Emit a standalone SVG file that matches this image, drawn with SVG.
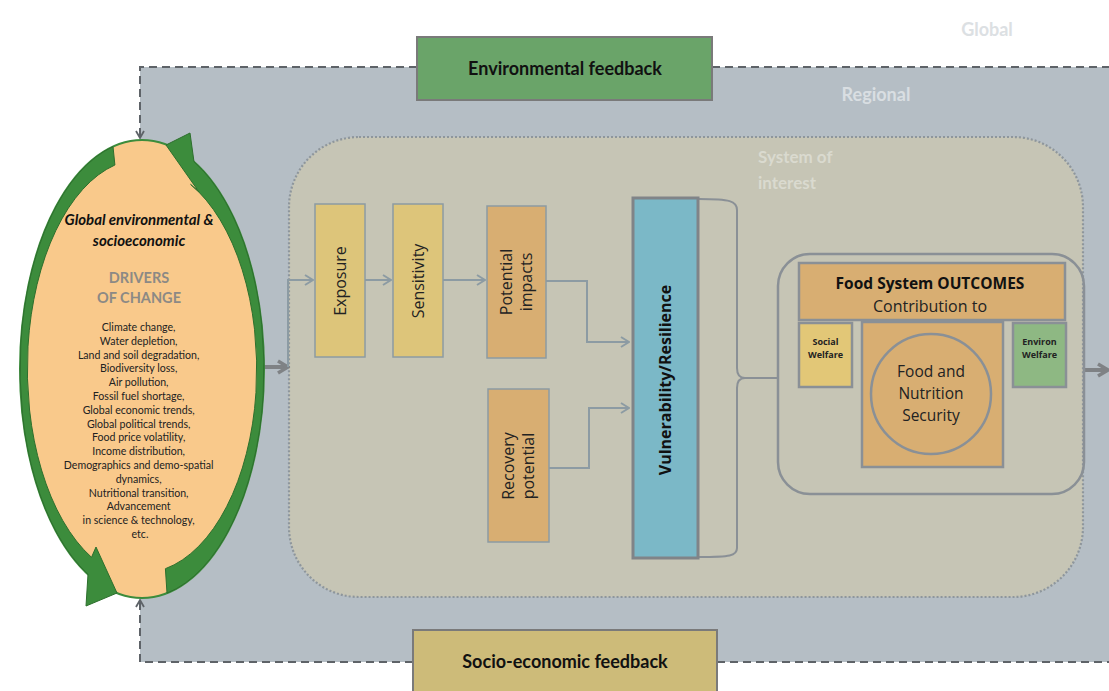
<svg xmlns="http://www.w3.org/2000/svg" width="1109" height="691" viewBox="0 0 1109 691">
<style>
.lato{font-family:Lato,"Liberation Sans",sans-serif}
.os{font-family:"Open Sans","Noto Sans",sans-serif}
.box{stroke:#8C9BA3;stroke-width:1.5}
.obox{stroke:#8A9096;stroke-width:2.5}
.flow{fill:none;stroke:#8C9BA3;stroke-width:2}
.thick{fill:none;stroke:#7F8285;stroke-width:4}
.dash{fill:none;stroke:#5E6368;stroke-width:2;stroke-dasharray:8 5}
.band{fill:#3C8C3C;stroke:#2D6F2D;stroke-width:1}
.list{font-size:10.6px;fill:#222}
</style>
<defs>
<marker id="ch" viewBox="0 0 10 12" refX="9" refY="6" markerWidth="10" markerHeight="12" markerUnits="userSpaceOnUse" orient="auto"><path d="M1,1 L9,6 L1,11" fill="none" stroke="#8C9BA3" stroke-width="2"/></marker>
<marker id="chT" viewBox="0 0 14 16" refX="12" refY="8" markerWidth="14" markerHeight="16" markerUnits="userSpaceOnUse" orient="auto"><path d="M2,2 L12,8 L2,14" fill="none" stroke="#7F8285" stroke-width="3.5"/></marker>
<marker id="chD" viewBox="0 0 10 10" refX="8" refY="5" markerWidth="10" markerHeight="10" markerUnits="userSpaceOnUse" orient="auto"><path d="M1,1 L8,5 L1,9" fill="none" stroke="#5E6368" stroke-width="1.8"/></marker>
</defs>
<rect width="1109" height="691" fill="#FFFFFF"/>
<g id="regional">
<rect x="140" y="67" width="1000" height="595" fill="#B5BEC5"/>
<text x="876" y="101" text-anchor="middle" class="lato" font-size="18" font-weight="bold" fill="#D9DEE2">Regional</text>
</g>
<text id="global" x="987" y="36" text-anchor="middle" class="lato" font-size="18" font-weight="bold" fill="#DCE0E3">Global</text>
<g id="system">
<rect x="289" y="137" width="794" height="460" rx="70" fill="#C6C5B5" stroke="#8E969C" stroke-width="2.2" stroke-dasharray="2 2"/>
<text class="lato" font-size="17" font-weight="bold" fill="#DADACF"><tspan x="758" y="163">System of</tspan><tspan x="758" y="189">interest</tspan></text>
</g>
<g id="connectors">
<path class="dash" d="M417,67 H140 V138" marker-end="url(#chD)"/>
<path class="dash" d="M712,67 H1109"/>
<path class="dash" d="M413,662 H140 V600" marker-end="url(#chD)"/>
<path class="dash" d="M717,662 H1109"/>
<path class="thick" d="M262,367 H288" marker-end="url(#chT)"/>
<path class="flow" d="M288,367 V280 H313" marker-end="url(#ch)"/>
<path class="flow" d="M365,280 H391" marker-end="url(#ch)"/>
<path class="flow" d="M443,280 H485" marker-end="url(#ch)"/>
<path class="flow" d="M546,281 H587 V342 H629" marker-end="url(#ch)"/>
<path class="flow" d="M549,468 H589 V408 H629" marker-end="url(#ch)"/>
<path fill="none" stroke="#8A9096" stroke-width="2" d="M699,199 C730,199 737,201 737,210 V368 C737,375 740,378 745,378 C740,378 737,381 737,388 V548 C737,556 730,557 699,557"/>
<path fill="none" stroke="#8A9096" stroke-width="2" d="M745,378 H778"/>
<path class="thick" d="M1085,370 H1108" marker-end="url(#chT)"/>
</g>
<g id="env-feedback">
<rect x="417" y="37" width="295" height="63" fill="#6AA469" stroke="#7A7A7A" stroke-width="2"/>
<text x="565" y="75" text-anchor="middle" class="lato" font-size="18" font-weight="bold" fill="#111">Environmental feedback</text>
</g>
<g id="soc-feedback">
<rect x="413" y="630" width="304" height="70" fill="#CDBB79" stroke="#7A7A7A" stroke-width="2"/>
<text x="565" y="668" text-anchor="middle" class="lato" font-size="18" font-weight="bold" fill="#111">Socio-economic feedback</text>
</g>
<g id="drivers">
<ellipse cx="142" cy="369" rx="122" ry="229" fill="#F9C98B" stroke="#3C8C3C" stroke-width="2"/>
<path class="band" d="M113,146.6 A122 229 0 0 0 88,574.3 L86,606 L117,593 L96,547 L91.5,557.3 A115 210 0 0 1 114.9,165 Z"/>
<path class="band" d="M167,593.1 A122 229 0 0 0 194,161.8 L190,133 L166,145 L199,192 L190.6,184.4 A115 204 0 0 1 165.4,568.7 Z" fill="#449A42"/>
<text class="lato" font-size="15" font-weight="bold" font-style="italic" fill="#111" text-anchor="middle"><tspan x="139" y="225">Global  environmental  &amp;</tspan><tspan x="139" y="246">socioeconomic</tspan></text>
<text class="lato" font-size="14.5" font-weight="bold" fill="#8C8985" text-anchor="middle"><tspan x="139" y="283">DRIVERS</tspan><tspan x="139" y="303">OF CHANGE</tspan></text>
<text class="lato list" text-anchor="middle">
<tspan x="140" y="331">Climate change,</tspan>
<tspan x="140" y="344.8">Water depletion,</tspan>
<tspan x="140" y="358.6">Land and soil degradation,</tspan>
<tspan x="140" y="372.4">Biodiversity  loss,</tspan>
<tspan x="140" y="386.2">Air pollution,</tspan>
<tspan x="140" y="400">Fossil fuel shortage,</tspan>
<tspan x="140" y="413.8">Global economic  trends,</tspan>
<tspan x="140" y="427.6">Global political  trends,</tspan>
<tspan x="140" y="441.4">Food price volatility,</tspan>
<tspan x="140" y="455.2">Income distribution,</tspan>
<tspan x="140" y="469">Demographics and demo-spatial</tspan>
<tspan x="140" y="482.8">dynamics,</tspan>
<tspan x="140" y="496.6">Nutritional  transition,</tspan>
<tspan x="140" y="510.4">Advancement</tspan>
<tspan x="140" y="524.2">in science &amp; technology,</tspan>
<tspan x="140" y="538">etc.</tspan>
</text>
</g>
<g id="exposure">
<rect class="box" x="315" y="204" width="50" height="153" fill="#DDC57A"/>
<text class="os" font-size="16" fill="#222" text-anchor="middle" transform="translate(346,281) rotate(-90)">Exposure</text>
</g>
<g id="sensitivity">
<rect class="box" x="393" y="204" width="50" height="153" fill="#DDC57A"/>
<text class="os" font-size="16" fill="#222" text-anchor="middle" transform="translate(424,281) rotate(-90)">Sensitivity</text>
</g>
<g id="potential-impacts">
<rect class="box" x="487" y="206" width="59" height="152" fill="#D8AE72"/>
<text class="os" font-size="16" fill="#222" text-anchor="middle" transform="translate(512,282) rotate(-90)"><tspan x="0" y="0">Potential</tspan><tspan x="0" y="20">impacts</tspan></text>
</g>
<g id="recovery-potential">
<rect class="box" x="488" y="389" width="61" height="153" fill="#D8AE72"/>
<text class="os" font-size="16" fill="#222" text-anchor="middle" transform="translate(514,466) rotate(-90)"><tspan x="0" y="0">Recovery</tspan><tspan x="0" y="20">potential</tspan></text>
</g>
<g id="vulnerability">
<rect x="633" y="198" width="65" height="360" fill="#7BB8C7" stroke="#808488" stroke-width="3"/>
<text class="os" font-size="16" font-weight="bold" fill="#111" text-anchor="middle" transform="translate(671,380) rotate(-90)">Vulnerability/Resilience</text>
</g>
<g id="outcomes">
<rect x="778" y="254" width="306" height="240" rx="32" fill="none" stroke="#8A9096" stroke-width="2.5"/>
<rect class="obox" x="799" y="263" width="266" height="57" fill="#D8AE72"/>
<text class="os" font-size="15.5" font-weight="bold" fill="#111" text-anchor="middle" x="930" y="289">Food System OUTCOMES</text>
<text class="os" font-size="16" fill="#222" text-anchor="middle" x="930" y="312">Contribution to</text>
</g>
<g id="social-welfare">
<rect class="obox" x="799" y="323" width="53" height="64" fill="#E2C777"/>
<text class="os" font-size="9" font-weight="bold" fill="#222" text-anchor="middle"><tspan x="825.5" y="345">Social</tspan><tspan x="825.5" y="358">Welfare</tspan></text>
</g>
<g id="environ-welfare">
<rect class="obox" x="1013" y="323" width="53" height="64" fill="#8EB883"/>
<text class="os" font-size="9" font-weight="bold" fill="#222" text-anchor="middle"><tspan x="1039.5" y="345">Environ</tspan><tspan x="1039.5" y="358">Welfare</tspan></text>
</g>
<g id="food-nutrition">
<rect class="obox" x="862" y="322" width="141" height="145" fill="#D8AE72"/>
<circle cx="931" cy="394" r="60" fill="none" stroke="#8A9096" stroke-width="2.5"/>
<text class="os" font-size="15.5" fill="#222" text-anchor="middle"><tspan x="931" y="377">Food and</tspan><tspan x="931" y="399">Nutrition</tspan><tspan x="931" y="421">Security</tspan></text>
</g>
</svg>
